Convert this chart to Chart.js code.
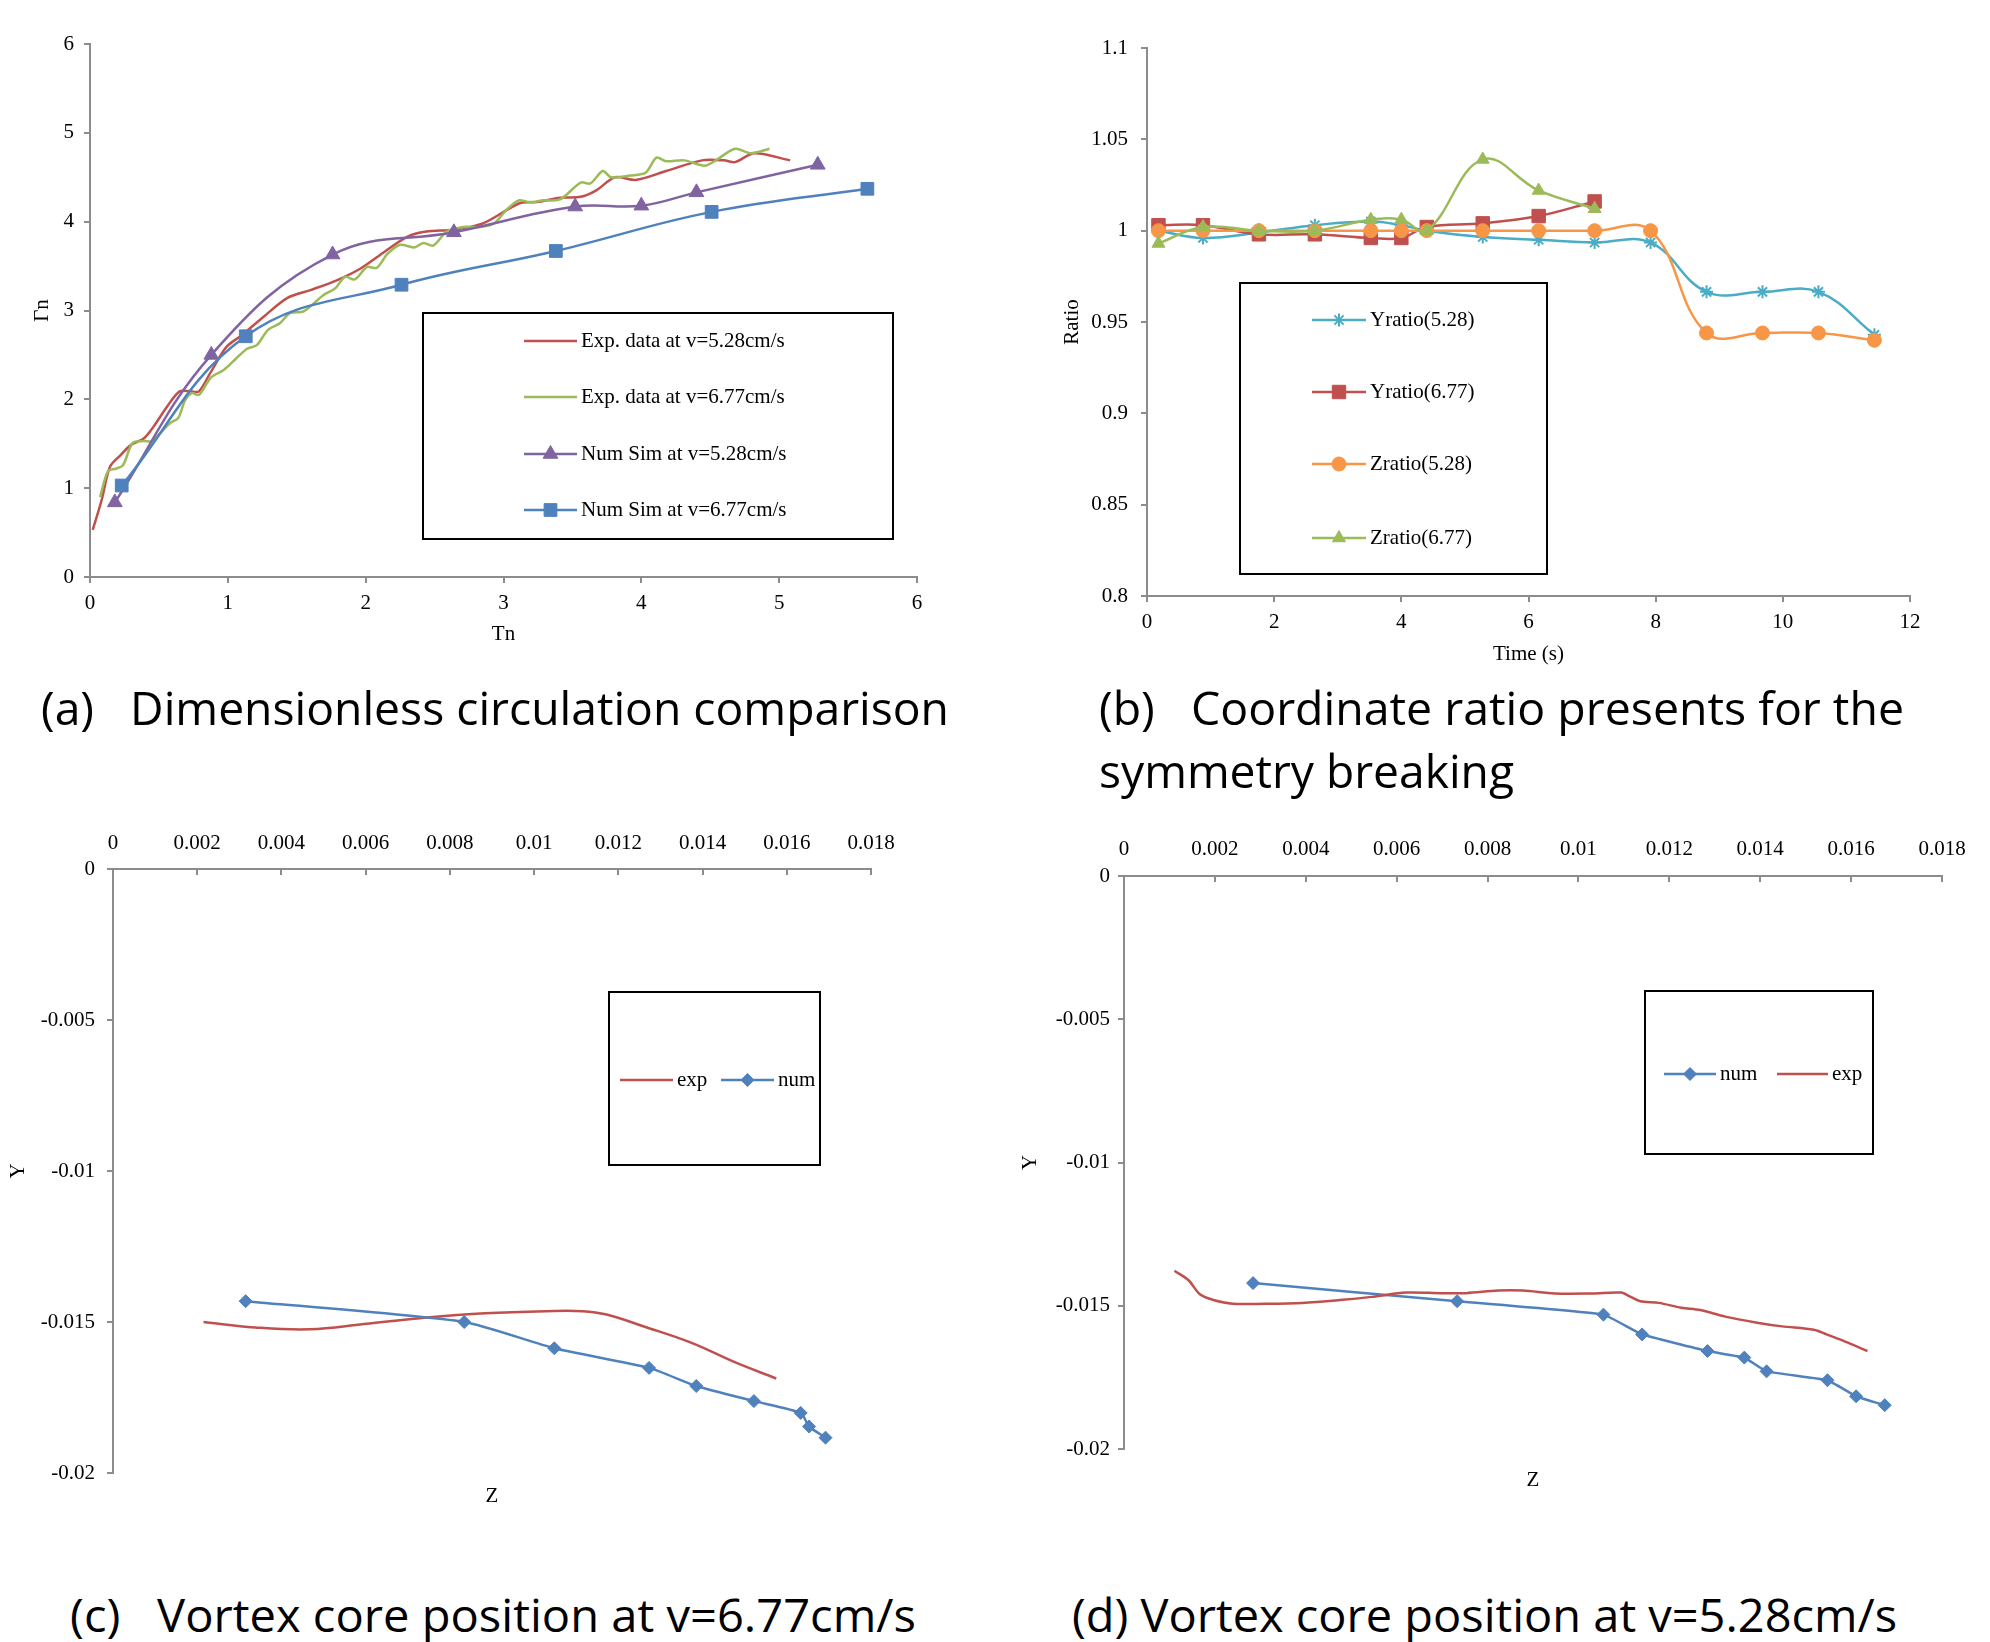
<!DOCTYPE html>
<html>
<head>
<meta charset="utf-8">
<script src="https://cdn.jsdelivr.net/npm/chart.js@4.4.1/dist/chart.umd.min.js"></script>
<style>
  html, body { margin: 0; padding: 0; background: #fff; }
  body { width: 1990px; height: 1642px; position: relative; overflow: hidden; }
  canvas { position: absolute; }
  .cap {
    position: absolute;
    font-family: 'Open Sans', 'Noto Sans', sans-serif;
    font-size: 46px;
    line-height: 60px;
    height: 60px;
    white-space: pre;
    color: #000;
    transform-origin: 0 50%;
  }
</style>
</head>
<body>
<canvas id="chartA" width="990" height="690" style="left:0;top:0"></canvas>
<canvas id="chartB" width="990" height="690" style="left:1000px;top:0"></canvas>
<canvas id="chartC" width="990" height="760" style="left:0;top:790px"></canvas>
<canvas id="chartD" width="990" height="760" style="left:1000px;top:790px"></canvas>

<div class="cap" data-w="908" style="left:41px;top:677px">(a)   Dimensionless circulation comparison</div>
<div class="cap" data-w="805" style="left:1099px;top:677px">(b)   Coordinate ratio presents for the</div>
<div class="cap" data-w="415" style="left:1099px;top:740px">symmetry breaking</div>
<div class="cap" data-w="846" style="left:70px;top:1584px">(c)   Vortex core position at v=6.77cm/s</div>
<div class="cap" data-w="825" style="left:1072px;top:1584px">(d) Vortex core position at v=5.28cm/s</div>

<script>
// ---------- values ----------

// (a) dimensionless circulation vs Tn
var expTn528 = [0.02, 0.085, 0.145, 0.22, 0.30, 0.39, 0.46, 0.56, 0.65, 0.73,
                0.79, 0.87, 0.99, 1.10, 1.26, 1.43, 1.60, 1.79, 1.96, 2.10,
                2.30, 2.44, 2.64, 2.85, 3.12, 3.24, 3.41, 3.56, 3.67, 3.81,
                3.96, 4.18, 4.44, 4.60, 4.68, 4.82, 5.08];
var expGn528 = [0.53, 0.87, 1.24, 1.37, 1.49, 1.56, 1.69, 1.92, 2.09, 2.09,
                2.09, 2.29, 2.59, 2.72, 2.93, 3.14, 3.23, 3.34, 3.47, 3.62,
                3.83, 3.89, 3.91, 3.98, 4.21, 4.22, 4.27, 4.28, 4.35, 4.50,
                4.47, 4.57, 4.69, 4.69, 4.67, 4.77, 4.69];

var expTn677 = [0.073, 0.13, 0.19, 0.24, 0.31, 0.39, 0.45, 0.51, 0.58, 0.64,
                0.69, 0.74, 0.79, 0.88, 0.97, 1.06, 1.14, 1.21, 1.29, 1.38,
                1.45, 1.55, 1.69, 1.78, 1.85, 1.92, 2.01, 2.08, 2.16, 2.25,
                2.35, 2.42, 2.49, 2.59, 2.71, 2.83, 2.93, 3.02, 3.11, 3.19,
                3.29, 3.41, 3.56, 3.63, 3.72, 3.78, 3.92, 4.03, 4.11, 4.18,
                4.31, 4.46, 4.53, 4.68, 4.79, 4.93];
var expGn677 = [0.90, 1.19, 1.22, 1.26, 1.51, 1.53, 1.53, 1.62, 1.73, 1.79,
                1.99, 2.07, 2.05, 2.25, 2.33, 2.46, 2.57, 2.61, 2.78, 2.86,
                2.97, 2.99, 3.17, 3.25, 3.38, 3.35, 3.49, 3.48, 3.64, 3.74,
                3.71, 3.76, 3.73, 3.89, 3.94, 3.94, 3.98, 4.13, 4.24, 4.22,
                4.24, 4.25, 4.44, 4.43, 4.57, 4.50, 4.52, 4.55, 4.72, 4.68,
                4.69, 4.63, 4.68, 4.82, 4.77, 4.82];

var numTn528 = [0.18, 0.88, 1.76, 2.64, 3.52, 4.00, 4.40, 5.28];
var numGn528 = [0.84, 2.50, 3.63, 3.88, 4.17, 4.18, 4.33, 4.64];

var numTn677 = [0.23, 1.13, 2.26, 3.38, 4.51, 5.64];
var numGn677 = [1.03, 2.71, 3.29, 3.67, 4.11, 4.37];

// (b) coordinate ratio vs time
var timeS = [0.18, 0.88, 1.76, 2.64, 3.52, 4.0, 4.4, 5.28, 6.16, 7.04, 7.92, 8.8, 9.68, 10.56, 11.44];
var yRatio528 = [1.000, 0.996, 0.999, 1.003, 1.005, 1.003, 1.000, 0.9965, 0.995, 0.9935, 0.9935, 0.9665, 0.9665, 0.9665, 0.943];
var yRatio677 = [1.003, 1.003, 0.998, 0.998, 0.996, 0.996, 1.002, 1.004, 1.008, 1.016];
var zRatio528 = [1.0, 1.0, 1.0, 1.0, 1.0, 1.0, 1.0, 1.0, 1.0, 1.0, 1.0, 0.944, 0.944, 0.944, 0.940];
var zRatio677 = [0.993, 1.002, 1.000, 1.000, 1.006, 1.006, 1.000, 1.039, 1.022, 1.012];

// (c) vortex core position, v=6.77cm/s
var zExp677 = [0.00215, 0.00337, 0.00467, 0.00596, 0.0074, 0.00884, 0.01028, 0.01115, 0.01172, 0.01259, 0.01374, 0.01475, 0.01575];
var yExp677 = [-0.0150, -0.01518, -0.01524, -0.01507, -0.01486, -0.01471, -0.01464, -0.01464, -0.01475, -0.01514, -0.01569, -0.01632, -0.01687];
var zNum677 = [0.00315, 0.00834, 0.01048, 0.01273, 0.01385, 0.01522, 0.01633, 0.01653, 0.01692];
var yNum677 = [-0.01431, -0.0150, -0.01587, -0.01652, -0.01712, -0.01762, -0.01801, -0.01846, -0.01883];

// (d) vortex core position, v=5.28cm/s
var zNum528 = [0.00284, 0.00733, 0.01055, 0.0114, 0.01284, 0.01365, 0.01414, 0.01548, 0.01611, 0.01674];
var yNum528 = [-0.01421, -0.01484, -0.01531, -0.0160, -0.01658, -0.01681, -0.01729, -0.0176, -0.01816, -0.01847];
var zExp528 = [0.00111, 0.00142, 0.00167, 0.00197, 0.00239, 0.00309, 0.00392, 0.00475, 0.00545, 0.00621,
               0.00698, 0.00753, 0.00823, 0.00878, 0.00948, 0.01031, 0.01094, 0.01115, 0.01136, 0.01177,
               0.01226, 0.01268, 0.01323, 0.01393, 0.01448, 0.01518, 0.01546, 0.01587, 0.01636];
var yExp528 = [-0.01378, -0.01411, -0.0146, -0.0148, -0.01493, -0.01493, -0.0149, -0.0148, -0.01469, -0.01454,
               -0.01456, -0.01456, -0.01447, -0.01447, -0.01457, -0.01457, -0.01454, -0.01469, -0.01484, -0.0149,
               -0.01507, -0.01515, -0.01538, -0.01559, -0.01572, -0.01584, -0.016, -0.01625, -0.01658];

// ---------- styling ----------
var blue = '#4F81BD', red = '#C0504D', green = '#9BBB59', purple = '#8064A2', teal = '#4BACC6', orange = '#F79646';
var axisGrey = '#8c8c8c';
var serif = "'Liberation Serif', 'Times New Roman', serif";
var fontSize = 21;

Chart.defaults.font.family = serif;
Chart.defaults.font.size = fontSize;
Chart.defaults.color = '#000';

function pts(xs, ys) {
    return xs.map(function (x, i) { return {x: x, y: ys[i]}; });
}

function trimNum(v) {
    return String(parseFloat(Number(v).toFixed(4)));
}

function series(label, xs, ys, color, marker, radius, tension) {
    return {
        label: label,
        data: pts(xs, ys),
        borderColor: color,
        backgroundColor: color,
        borderWidth: 2.5,
        pointStyle: marker || 'circle',
        pointRadius: marker ? radius : 0,
        pointHoverRadius: marker ? radius : 0,
        pointBackgroundColor: color,
        pointBorderColor: color,
        pointBorderWidth: marker === 'star' ? 2 : 1,
        tension: tension,
        fill: false,
        clip: false
    };
}

// excel draws later series on top
function stack(list) {
    list.forEach(function (d, i) { d.order = -i; });
    return list;
}

function axis(o) {
    return {
        type: 'linear',
        position: o.position,
        min: o.min,
        max: o.max,
        ticks: {
            display: o.hideTicks ? false : true,
            stepSize: o.step,
            padding: o.pad || 0,
            callback: trimNum,
            color: '#000',
            autoSkip: false,
            maxRotation: 0,
            font: {family: serif, size: fontSize}
        },
        grid: {
            display: o.hideTicks ? false : true,
            drawOnChartArea: false,
            drawTicks: true,
            tickLength: o.tick || 0,
            color: axisGrey,
            lineWidth: 2
        },
        border: {display: o.hideTicks ? false : true, color: axisGrey, width: 2},
        title: o.title ? {
            display: true,
            text: o.title,
            color: '#000',
            font: {family: serif, size: fontSize},
            padding: o.titlePad
        } : {display: false},
        afterFit: function (s) {
            if (s.isHorizontal()) s.height = o.size; else s.width = o.size;
        }
    };
}

// ---------- boxed legend like the excel one ----------
function drawMarker(ctx, style, r, x, y, color) {
    ctx.save();
    ctx.fillStyle = color;
    ctx.strokeStyle = color;
    ctx.lineWidth = style === 'star' ? 2 : 1;
    ctx.beginPath();
    if (style === 'circle') {
        ctx.arc(x, y, r, 0, Math.PI * 2);
    } else if (style === 'rect') {
        var s = r * Math.SQRT1_2;
        ctx.rect(x - s, y - s, 2 * s, 2 * s);
    } else if (style === 'rectRot') {
        ctx.moveTo(x - r, y); ctx.lineTo(x, y - r); ctx.lineTo(x + r, y); ctx.lineTo(x, y + r);
        ctx.closePath();
    } else if (style === 'triangle') {
        var e = 3 * r / Math.sqrt(3), h = e * Math.sqrt(3) / 2;
        ctx.moveTo(x - e / 2, y + h / 3); ctx.lineTo(x + e / 2, y + h / 3); ctx.lineTo(x, y - 2 * h / 3);
        ctx.closePath();
    } else if (style === 'star') {
        var d = r * Math.SQRT1_2;
        ctx.moveTo(x, y - r); ctx.lineTo(x, y + r);
        ctx.moveTo(x - r, y); ctx.lineTo(x + r, y);
        ctx.moveTo(x - d, y - d); ctx.lineTo(x + d, y + d);
        ctx.moveTo(x - d, y + d); ctx.lineTo(x + d, y - d);
    }
    if (style !== 'star') ctx.fill();
    ctx.stroke();
    ctx.restore();
}

var boxLegend = {
    id: 'boxLegend',
    afterDraw: function (chart, args, opts) {
        if (!opts || !opts.box) return;
        var ctx = chart.ctx;
        var b = opts.box;
        ctx.save();
        ctx.strokeStyle = '#000';
        ctx.lineWidth = 2;
        ctx.strokeRect(b[0], b[1], b[2] - b[0], b[3] - b[1]);
        opts.items.forEach(function (it) {
            var ds = chart.data.datasets[it.ds];
            ctx.strokeStyle = ds.borderColor;
            ctx.lineWidth = ds.borderWidth;
            ctx.beginPath();
            ctx.moveTo(it.x1, it.y);
            ctx.lineTo(it.x2, it.y);
            ctx.stroke();
            if (ds.pointRadius > 0) {
                drawMarker(ctx, ds.pointStyle, ds.pointRadius, (it.x1 + it.x2) / 2, it.y, ds.borderColor);
            }
            ctx.fillStyle = '#000';
            ctx.font = fontSize + 'px ' + serif;
            ctx.textBaseline = 'middle';
            ctx.textAlign = 'left';
            ctx.fillText(ds.label, it.x2 + 4, it.y);
        });
        ctx.restore();
    }
};

function baseOptions(pad, scales, legend) {
    return {
        responsive: false,
        animation: false,
        devicePixelRatio: 1,
        layout: {padding: pad},
        scales: scales,
        plugins: {
            legend: {display: false},
            tooltip: {enabled: false},
            boxLegend: legend
        }
    };
}

// ---------- (a) ----------
new Chart(document.getElementById('chartA'), {
    type: 'line',
    data: {datasets: stack([
        series('Exp. data at v=5.28cm/s', expTn528, expGn528, red, null, 0, 0.3),
        series('Exp. data at v=6.77cm/s', expTn677, expGn677, green, null, 0, 0.3),
        series('Num Sim at v=5.28cm/s', numTn528, numGn528, purple, 'triangle', 8.5, 0.4),
        series('Num Sim at v=6.77cm/s', numTn677, numGn677, blue, 'rect', 9, 0.4)
    ])},
    options: baseOptions({left: 0, top: 44, right: 73, bottom: 0}, {
        x: axis({position: 'bottom', min: 0, max: 6, step: 1, tick: 6, pad: 8, size: 113,
                 title: 'Tn', titlePad: {top: 0, bottom: 43}}),
        y: axis({position: 'left', min: 0, max: 6, step: 1, tick: 6, pad: 10, size: 90,
                 title: '\u0393n', titlePad: {top: 30, bottom: 0}})
    }, {
        box: [423, 313, 893, 539],
        items: [
            {ds: 0, x1: 524, x2: 577, y: 341},
            {ds: 1, x1: 524, x2: 577, y: 397},
            {ds: 2, x1: 524, x2: 577, y: 454},
            {ds: 3, x1: 524, x2: 577, y: 510}
        ]
    }),
    plugins: [boxLegend]
});

// ---------- (b) ----------
new Chart(document.getElementById('chartB'), {
    type: 'line',
    data: {datasets: stack([
        series('Yratio(5.28)', timeS, yRatio528, teal, 'star', 6.5, 0.4),
        series('Yratio(6.77)', timeS.slice(0, yRatio677.length), yRatio677, red, 'rect', 9.5, 0.4),
        series('Zratio(5.28)', timeS, zRatio528, orange, 'circle', 7, 0.4),
        series('Zratio(6.77)', timeS.slice(0, zRatio677.length), zRatio677, green, 'triangle', 7.5, 0.4)
    ])},
    options: baseOptions({left: 0, top: 48, right: 80, bottom: 0}, {
        x: axis({position: 'bottom', min: 0, max: 12, step: 2, tick: 6, pad: 8, size: 94,
                 title: 'Time (s)', titlePad: {top: 0, bottom: 23}}),
        y: axis({position: 'left', min: 0.8, max: 1.1, step: 0.05, tick: 6, pad: 13, size: 147,
                 title: 'Ratio', titlePad: {top: 60, bottom: 0}})
    }, {
        box: [240, 283, 547, 574],
        items: [
            {ds: 0, x1: 312, x2: 366, y: 320},
            {ds: 1, x1: 312, x2: 366, y: 392},
            {ds: 2, x1: 312, x2: 366, y: 464},
            {ds: 3, x1: 312, x2: 366, y: 538}
        ]
    }),
    plugins: [boxLegend]
});

// ---------- (c) ----------
new Chart(document.getElementById('chartC'), {
    type: 'line',
    data: {datasets: stack([
        series('exp', zExp677, yExp677, red, null, 0, 0.4),
        series('num', zNum677, yNum677, blue, 'rectRot', 6.5, 0.2)
    ])},
    options: baseOptions({left: 0, top: 0, right: 119, bottom: 0}, {
        x: axis({position: 'top', min: 0, max: 0.018, step: 0.002, tick: -6, pad: 19, size: 79}),
        x2: axis({position: 'bottom', min: 0, max: 0.018, step: 0.002, hideTicks: true, size: 77,
                  title: 'Z', titlePad: {top: 0, bottom: 41}}),
        y: axis({position: 'left', min: -0.02, max: 0, step: 0.005, tick: 6, pad: 12, size: 113,
                 title: 'Y', titlePad: {top: 6, bottom: 0}})
    }, {
        box: [609, 202, 820, 375],
        items: [
            {ds: 0, x1: 620, x2: 673, y: 290},
            {ds: 1, x1: 721, x2: 774, y: 290}
        ]
    }),
    plugins: [boxLegend]
});

// ---------- (d) ----------
new Chart(document.getElementById('chartD'), {
    type: 'line',
    data: {datasets: stack([
        series('num', zNum528, yNum528, blue, 'rectRot', 6.5, 0.1),
        series('exp', zExp528, yExp528, red, null, 0, 0.3)
    ])},
    options: baseOptions({left: 0, top: 0, right: 48, bottom: 0}, {
        x: axis({position: 'top', min: 0, max: 0.018, step: 0.002, tick: -6, pad: 20, size: 86}),
        x2: axis({position: 'bottom', min: 0, max: 0.018, step: 0.002, hideTicks: true, size: 101,
                  title: 'Z', titlePad: {top: 0, bottom: 57}}),
        y: axis({position: 'left', min: -0.02, max: 0, step: 0.005, tick: 6, pad: 8, size: 124,
                 title: 'Y', titlePad: {top: 18, bottom: 0}})
    }, {
        box: [645, 201, 873, 364],
        items: [
            {ds: 0, x1: 664, x2: 716, y: 284},
            {ds: 1, x1: 777, x2: 828, y: 284}
        ]
    }),
    plugins: [boxLegend]
});

// ---------- captions: squeeze to the width they take in the figure ----------
document.querySelectorAll('.cap').forEach(function (el) {
    var w = el.getBoundingClientRect().width;
    el.style.transform = 'scaleX(' + (parseFloat(el.dataset.w) / w) + ')';
});
</script>
</body>
</html>
